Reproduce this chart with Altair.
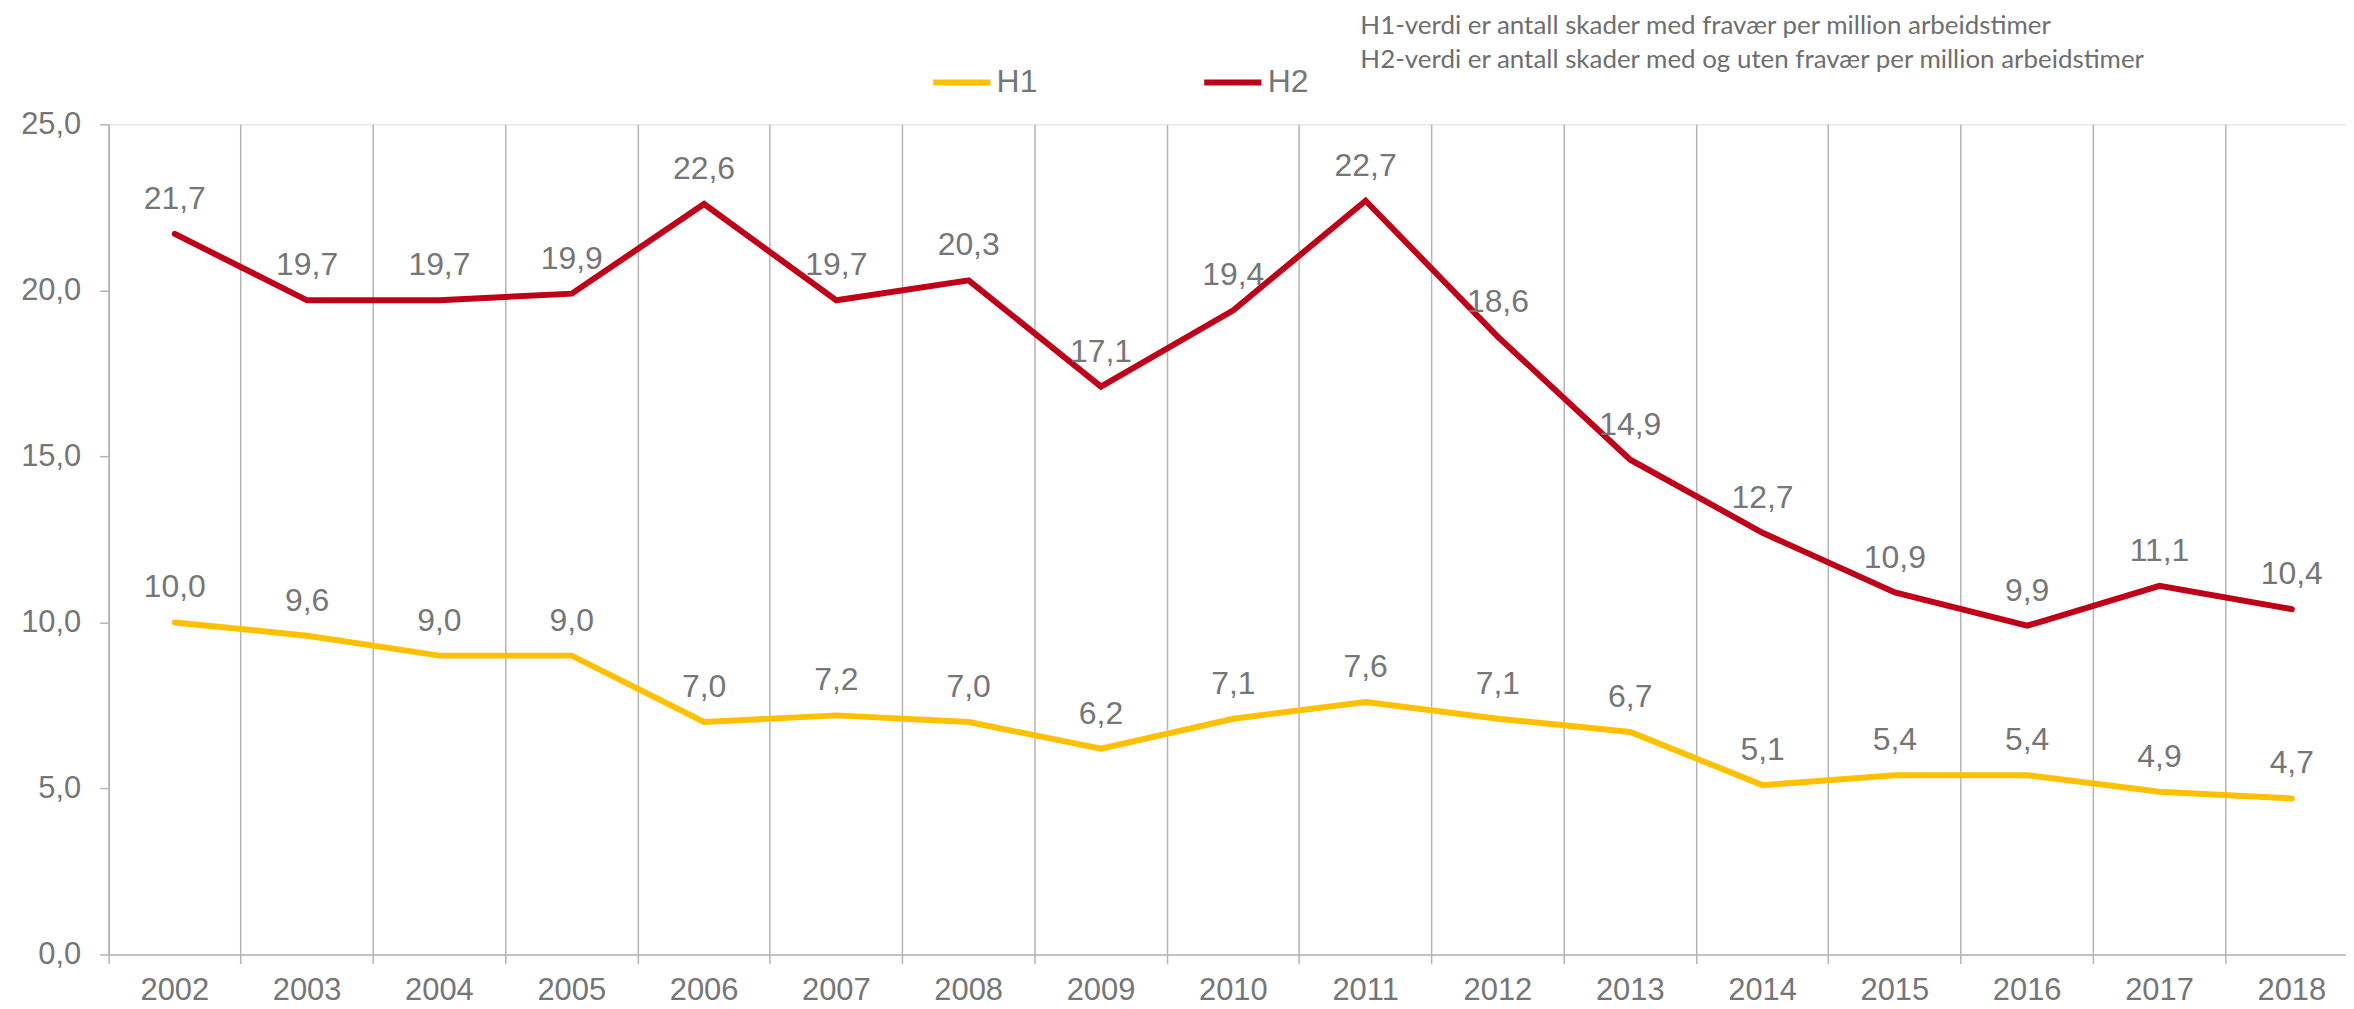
import altair as alt
import pandas as pd

years = [str(y) for y in range(2002, 2019)]
h1 = [10.0, 9.6, 9.0, 9.0, 7.0, 7.2, 7.0, 6.2, 7.1, 7.6, 7.1, 6.7, 5.1, 5.4, 5.4, 4.9, 4.7]
h2 = [21.7, 19.7, 19.7, 19.9, 22.6, 19.7, 20.3, 17.1, 19.4, 22.7, 18.6, 14.9, 12.7, 10.9, 9.9, 11.1, 10.4]
series_names = ["H1", "H2"]
series_colors = ["#FFC000", "#C00018"]
y_ticks = [0, 5, 10, 15, 20, 25]
notes = [
    "H1-verdi er antall skader med fravær per million arbeidstimer",
    "H2-verdi er antall skader med og uten fravær per million arbeidstimer",
]

rows = []
for name, vals in zip(series_names, [h1, h2]):
    for yr, v in zip(years, vals):
        rows.append({"year": yr, "value": v, "series": name,
                     "label": f"{v:.1f}".replace(".", ",")})
df = pd.DataFrame(rows)

FONT = "Liberation Sans"
GREY = "#767676"
AXIS_GREY = "#b4b4b4"

x_enc = alt.X(
    "year:N", sort=years, title=None,
    scale=alt.Scale(type="band", paddingInner=0, paddingOuter=0, range=[0, 2257]),
    axis=alt.Axis(
        bandPosition=0, grid=True, gridColor=AXIS_GREY, gridWidth=1.5,
        domainColor=AXIS_GREY, domainWidth=1.5, tickColor=AXIS_GREY, tickWidth=1.5,
        tickSize=9, labelPadding=12, labelFontSize=31, labelFont=FONT,
        labelColor=GREY, labelAngle=0, labelAlign="center",
    ),
)
y_enc = alt.Y(
    "value:Q", title=None,
    scale=alt.Scale(domain=[0, 25], nice=False),
    axis=alt.Axis(
        values=y_ticks, grid=False, domainColor=AXIS_GREY, domainWidth=1.5,
        tickColor=AXIS_GREY, tickWidth=1.5, tickSize=9, labelPadding=19,
        labelFontSize=31, labelFont=FONT, labelColor=GREY,
        labelExpr="replace(format(datum.value, '.1f'), '.', ',')",
    ),
)
color_enc = alt.Color(
    "series:N",
    scale=alt.Scale(domain=series_names, range=series_colors),
    legend=alt.Legend(
        title=None, orient="none", legendX=824, legendY=-74, direction="horizontal",
        symbolType="stroke", symbolSize=3300, symbolStrokeWidth=6,
        labelFontSize=32, labelFont=FONT, labelColor=GREY, labelOffset=3,
        columnPadding=155,
    ),
)

base = alt.Chart(df)
lines = base.mark_line(strokeWidth=6, strokeJoin="miter", strokeCap="round").encode(
    x=x_enc, y=y_enc, color=color_enc, detail="series:N"
)
labels = base.mark_text(
    dy=-25, baseline="alphabetic", fontSize=32, font=FONT, color=GREY
).encode(
    x=alt.X("year:N", sort=years), y="value:Q", text="label:N"
)
note_df = pd.DataFrame({"t": ["\n".join(notes)]})
note = alt.Chart(note_df).mark_text(
    align="left", baseline="alphabetic", font="Lato", fontSize=26,
    color="#6e6e6e", lineBreak="\n", lineHeight=35,
).encode(text="t:N", x=alt.value(1256), y=alt.value(-91))

chart = alt.layer(lines, labels, note).properties(
    width=2245, height=833,
    autosize=alt.AutoSizeParams(type="none"),
    padding={"left": 101, "top": 115, "right": 0, "bottom": 53},
).configure_view(stroke=None).configure(background="white")

chart.save("out.html", embed_options={"renderer": "svg", "actions": False})
